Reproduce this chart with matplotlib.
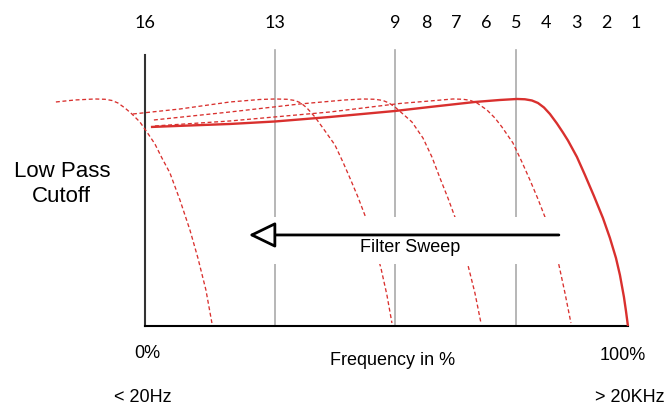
"""Low pass filter sweep diagram: one solid cutoff curve plus swept (dashed) copies."""
import matplotlib
matplotlib.use("Agg")
import matplotlib.pyplot as plt
from matplotlib.patches import Rectangle

# --- data (x = frequency in %, y = relative level) ----------------------------------
solid_x = [1.24, 9.32, 17.60, 26.92, 38.30, 51.76, 59.01, 68.32, 73.50, 77.02, 78.67,
           80.12, 81.37, 82.61, 83.85, 85.30, 86.54, 87.58, 89.44, 91.10, 92.96, 94.82,
           96.27, 97.52, 98.34, 99.17, 99.59, 100.0]
solid_y = [87.67, 88.33, 88.99, 90.09, 92.07, 94.71, 96.48, 98.68, 99.56, 100.0, 99.87,
           99.34, 98.24, 96.26, 93.39, 89.21, 85.24, 81.72, 74.45, 66.52, 57.27, 47.58,
           38.77, 29.96, 22.47, 12.78, 6.61, 0.0]

sweep_16_x = [-18.43, -14.49, -10.35, -8.28, -6.83, -5.59, -4.14, -2.69, -1.04, 0.41,
              2.07, 3.52, 5.18, 7.25, 9.32, 10.97, 12.63, 13.87]
sweep_16_y = [98.68, 99.56, 100.0, 99.87, 99.34, 98.24, 96.04, 93.39, 89.87, 85.46,
              80.18, 74.01, 67.40, 55.51, 42.29, 29.96, 15.86, 1.32]

sweep_13_x = [-2.48, 7.25, 17.60, 23.81, 26.92, 29.40, 31.06, 32.30, 33.54, 35.20, 36.85,
              39.34, 40.99, 42.44, 44.10, 45.76, 47.41, 48.86, 50.10, 51.14]
sweep_13_y = [93.39, 95.59, 98.68, 99.78, 100.0, 99.87, 99.34, 98.24, 96.04, 92.07, 87.22,
              79.74, 72.25, 65.20, 56.83, 47.58, 36.56, 25.55, 13.66, 1.32]

sweep_9_x = [1.86, 17.60, 32.09, 41.41, 45.13, 47.62, 49.28, 50.52, 51.76, 53.42, 55.28,
             57.56, 59.42, 61.08, 62.73, 64.18, 65.63, 66.87, 68.32, 69.57]
sweep_9_y = [90.75, 94.27, 97.80, 99.56, 100.0, 99.87, 99.34, 98.24, 96.48, 93.39, 89.87,
             82.82, 74.45, 65.20, 56.39, 48.02, 37.89, 26.87, 14.54, 1.32]

sweep_5_x = [2.07, 17.60, 38.30, 52.80, 59.01, 63.77, 65.84, 67.29, 68.74, 70.81, 72.46,
             73.91, 76.19, 78.05, 79.71, 81.37, 82.82, 84.27, 85.71, 86.96, 88.20]
sweep_5_y = [88.11, 90.31, 94.27, 98.02, 99.12, 100.0, 99.87, 99.43, 98.24, 95.15, 91.63,
             87.67, 80.62, 72.25, 64.32, 55.95, 48.02, 37.89, 26.87, 14.54, 1.32]

step_labels = ["16", "13", "9", "8", "7", "6", "5", "4", "3", "2", "1"]
step_pos = [0.0, 26.9, 51.8, 58.2, 64.4, 70.6, 76.8, 83.0, 89.4, 95.6, 101.7]
grid_pos = [26.9, 51.8, 76.8]

RED = "#d9302e"
SANS = ["Liberation Sans", "DejaVu Sans"]

fig = plt.figure(figsize=(6.69, 4.05), dpi=100)
ax = fig.add_axes([0, 0, 1, 1])
ax.set_xlim(-30.0, 108.5)
ax.set_ylim(-34.8, 143.6)
ax.axis("off")

# grid lines and axes
for gx in grid_pos:
    ax.plot([gx, gx], [0, 121.6], color="#aaaaaa", lw=1.2, zorder=1)
ax.plot([0, 0], [0, 119.4], color="#333333", lw=1.5, zorder=2)
ax.plot([0, 100], [0, 0], color="black", lw=1.5, zorder=2)

# curves
dash = dict(color=RED, lw=0.95, ls=(0, (3, 2)), zorder=3)
for xs, ys in [(sweep_16_x, sweep_16_y), (sweep_13_x, sweep_13_y),
               (sweep_9_x, sweep_9_y), (sweep_5_x, sweep_5_y)]:
    ax.plot(xs, ys, **dash)
ax.plot(solid_x, solid_y, color=RED, lw=1.7, zorder=4, solid_capstyle="butt",
        solid_joinstyle="round")

# white band behind the sweep arrow
ax.add_patch(Rectangle((23.8, 27.3), 63.2, 20.7, facecolor="white",
                       edgecolor="none", zorder=5))
ax.annotate("", xy=(21.5, 40.1), xytext=(85.7, 40.1),
            arrowprops=dict(arrowstyle="-|>,head_length=1.65,head_width=0.8",
                            fc="white", ec="black", lw=2, shrinkA=0, shrinkB=0),
            zorder=6)
ax.text(54.9, 34.4, "Filter Sweep", ha="center", va="center", fontsize=13,
        family=SANS, zorder=6)

# labels
for lab, px in zip(step_labels, step_pos):
    ax.text(px, 133.5, lab, ha="center", va="center", fontsize=13, family=["Lato"] + SANS)
ax.text(-17.2, 62.6, "Low Pass\nCutoff", ha="center", va="center", fontsize=16,
        family=SANS, linespacing=1.25)
ax.text(0.6, -11.9, "0%", ha="center", va="center", fontsize=13, family=SANS)
ax.text(99.0, -12.8, "100%", ha="center", va="center", fontsize=13, family=SANS)
ax.text(51.3, -15.0, "Frequency in %", ha="center", va="center", fontsize=13, family=SANS)
ax.text(-0.4, -31.7, "< 20Hz", ha="center", va="center", fontsize=13, family=SANS)
ax.text(100.4, -31.7, "> 20KHz", ha="center", va="center", fontsize=13, family=SANS)

fig.savefig("out.png", dpi=100)
